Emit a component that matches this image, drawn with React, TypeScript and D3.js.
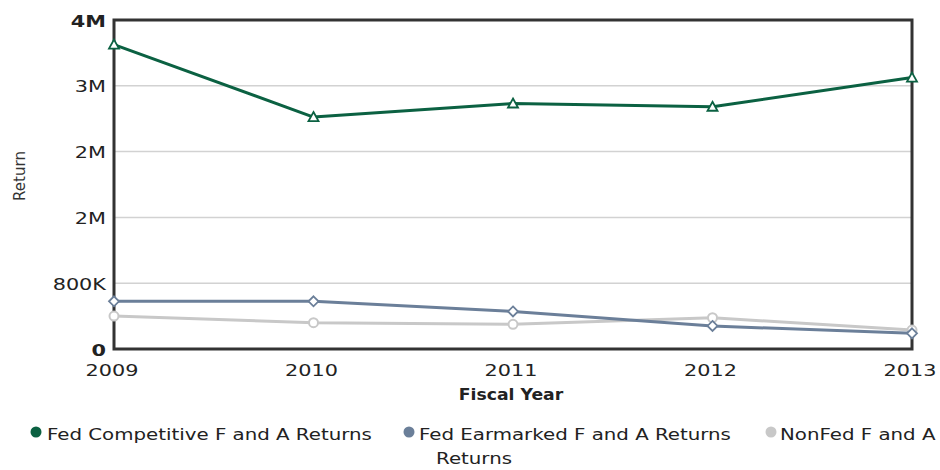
import React from "react";
import * as d3 from "d3";

const years = ["2009", "2010", "2011", "2012", "2013"];
const fedCompetitive = [3700000, 2820000, 2985000, 2945000, 3300000];
const fedEarmarked = [580000, 580000, 457000, 280000, 190000];
const nonFed = [400000, 320000, 300000, 380000, 230000];
const yTickValues = [0, 800000, 1600000, 2400000, 3200000, 4000000];
const yTickLabels = ["0", "800K", "2M", "2M", "3M", "4M"];
const seriesNames = ["Fed Competitive F and A Returns", "Fed Earmarked F and A Returns", "NonFed F and A"];
const legendWrap = "Returns";

const W = 940, H = 470;
const PL = 114, PR = 912, PT = 20, PB = 349;
const COLORS = ["#0B6142", "#6B7F99", "#C8C8C8"];
const FONT = "'DejaVu Sans', Verdana, sans-serif";
const SX = 1.3;

export default function App() {
  const x = d3.scalePoint<string>().domain(years).range([PL, PR]);
  const y = d3.scaleLinear().domain([0, 4000000]).range([PB, PT]);
  const line = d3
    .line<number>()
    .x((_, i) => x(years[i]) as number)
    .y((d) => y(d));

  const series = [
    { name: seriesNames[2], values: nonFed, color: COLORS[2], marker: "circle" },
    { name: seriesNames[1], values: fedEarmarked, color: COLORS[1], marker: "diamond" },
    { name: seriesNames[0], values: fedCompetitive, color: COLORS[0], marker: "triangle" },
  ];

  const marker = (type: string, cx: number, cy: number, color: string, key: string) => {
    if (type === "circle")
      return <circle key={key} cx={cx} cy={cy} r={4.5} fill="#fff" stroke={color} strokeWidth={2} />;
    if (type === "diamond")
      return (
        <path key={key} d={`M${cx},${cy - 5}L${cx + 5},${cy}L${cx},${cy + 5}L${cx - 5},${cy}Z`} fill="#fff" stroke={color} strokeWidth={1.8} />
      );
    return (
      <path key={key} d={`M${cx},${cy - 5}L${cx + 5},${cy + 4}L${cx - 5},${cy + 4}Z`} fill="#fff" stroke={color} strokeWidth={1.8} />
    );
  };

  const legendItems = [
    { cx: 36, tx: 47, name: seriesNames[0], color: COLORS[0] },
    { cx: 409, tx: 419, name: seriesNames[1], color: COLORS[1] },
    { cx: 771, tx: 780, name: seriesNames[2], color: COLORS[2] },
  ];

  return (
    <svg width={W} height={H} style={{ position: "absolute", left: 0, top: 0, background: "#fff" }} fontFamily={FONT}>
      {/* gridlines */}
      {yTickValues.slice(1, -1).map((v) => (
        <line key={v} x1={PL} x2={PR} y1={y(v)} y2={y(v)} stroke="#d2d2d2" strokeWidth={1.5} />
      ))}
      {/* frame */}
      <rect x={PL} y={PT} width={PR - PL} height={PB - PT} fill="none" stroke="#333" strokeWidth={3} />
      {/* y tick labels */}
      {yTickValues.map((v, i) => (
        <text
          key={v}
          transform={`translate(${PL - 8},${y(v) + 6.5}) scale(${SX},1)`}
          textAnchor="end"
          fontSize={16}
          fontWeight={i === 0 || i === yTickValues.length - 1 ? "bold" : "normal"}
          fill="#222"
        >
          {yTickLabels[i]}
        </text>
      ))}
      {/* x tick labels */}
      {years.map((yr) => (
        <text key={yr} transform={`translate(${(x(yr) as number) - 2},${376}) scale(${SX},1)`} textAnchor="middle" fontSize={16} fill="#222">
          {yr}
        </text>
      ))}
      {/* axis titles */}
      <text transform={`translate(${511},${400}) scale(1.15,1)`} textAnchor="middle" fontSize={15} fontWeight="bold" fill="#222">
        Fiscal Year
      </text>
      <text transform={`translate(${25},${176}) rotate(-90)`} textAnchor="middle" fontSize={15} fill="#333">
        Return
      </text>
      {/* series */}
      {series.map((s) => (
        <g key={s.name}>
          <path d={line(s.values) as string} fill="none" stroke={s.color} strokeWidth={3} strokeLinejoin="round" />
          {s.values.map((v, i) => marker(s.marker, x(years[i]) as number, y(v), s.color, s.name + i))}
        </g>
      ))}
      {/* legend */}
      {legendItems.map((l) => (
        <g key={l.name}>
          <circle cx={l.cx} cy={432} r={5.5} fill={l.color} />
          <text transform={`translate(${l.tx},${440}) scale(1.32,1)`} fontSize={15} fill="#222">
            {l.name}
          </text>
        </g>
      ))}
      <text transform={`translate(${474},${464}) scale(1.32,1)`} textAnchor="middle" fontSize={15} fill="#222">
        {legendWrap}
      </text>
    </svg>
  );
}
